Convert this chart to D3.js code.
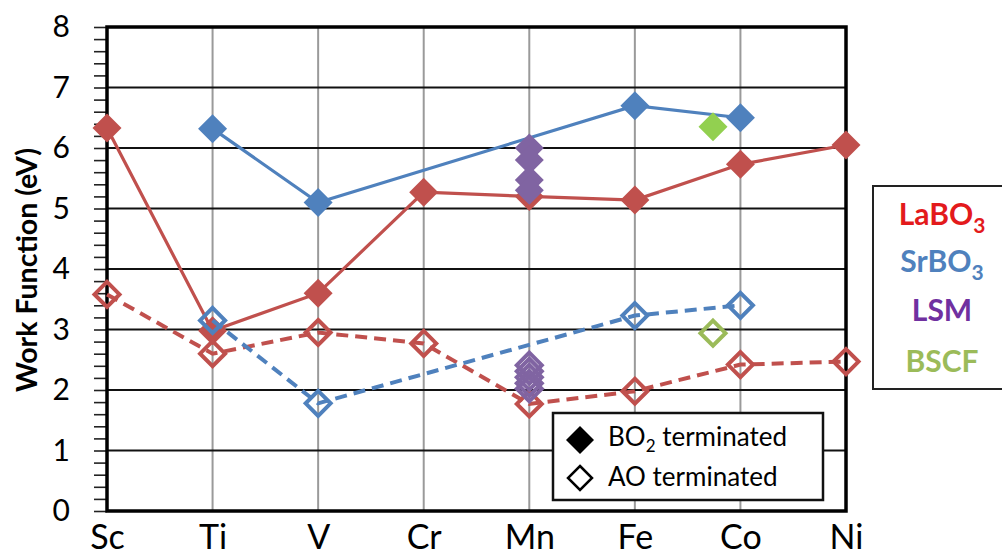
<!DOCTYPE html>
<html>
<head>
<meta charset="utf-8">
<script src="https://cdn.jsdelivr.net/npm/d3@7/dist/d3.min.js"></script>
<style>
  html, body { margin: 0; padding: 0; background: #fff; }
  svg { display: block; font-family: Lato, "Open Sans", sans-serif; }
</style>
</head>
<body>
<svg id="chart" width="1002" height="559"></svg>
<script>
// B-site cations along the 3d row
const categories = ["Sc", "Ti", "V", "Cr", "Mn", "Fe", "Co", "Ni"];
const yTicks = [0, 1, 2, 3, 4, 5, 6, 7, 8];

// Work functions (eV); null = not computed
const laBO2 = [6.33, 2.98, 3.60, 5.27, 5.20, 5.14, 5.73, 6.05];
const laAO  = [3.58, 2.60, 2.95, 2.77, 1.77, 1.98, 2.42, 2.47];
const srBO2 = [null, 6.32, 5.10, null, null, 6.70, 6.50, null];
const srAO  = [null, 3.15, 1.78, null, null, 3.23, 3.40, null];

// LSM compositions, all on the Mn site
const lsmBO2 = [6.00, 5.80, 5.47, 5.30];
const lsmAO  = [2.41, 2.31, 2.21, 2.11, 2.02];

// BSCF sits just left of Co
const bscfPos = 5.74;
const bscfBO2 = [6.35];
const bscfAO  = [2.94];

const legendNames = ["LaBO", "SrBO", "LSM", "BSCF"];
const legendSubs  = ["3", "3", "", ""];

const colors = {
  la: "#C0504D", sr: "#4F81BD", lsm: "#8064A2",
  bscfFill: "#92D050", bscfLine: "#9BBB59"
};
const legendColors = ["#E31A1C", "#4F81BD", "#7030A0", "#9BBB59"];

const svg = d3.select("#chart");
const plot = { left: 107, right: 846, top: 27, bottom: 511 };

const x = d3.scaleLinear().domain([0, categories.length - 1]).range([plot.left, plot.right]);
const y = d3.scaleLinear().domain([0, 8]).range([plot.bottom, plot.top]);

// vertical grid (grey) at each cation
svg.append("g")
  .selectAll("line")
  .data(categories.slice(1, -1))
  .join("line")
  .attr("x1", (d, i) => x(i + 1)).attr("x2", (d, i) => x(i + 1))
  .attr("y1", plot.top).attr("y2", plot.bottom)
  .attr("stroke", "#9a9a9a").attr("stroke-width", 2);

// horizontal grid (black)
svg.append("g")
  .selectAll("line")
  .data(yTicks.slice(1, -1))
  .join("line")
  .attr("x1", plot.left).attr("x2", plot.right)
  .attr("y1", d => y(d)).attr("y2", d => y(d))
  .attr("stroke", "#111").attr("stroke-width", 2);

// minor + major tick marks on the left
const minorTicks = d3.range(0, 40.5).map(i => i / 5);
svg.append("g")
  .attr("transform", `translate(${plot.left},0)`)
  .call(d3.axisLeft(y).tickValues(minorTicks).tickSize(13).tickFormat(""))
  .call(g => g.select(".domain").remove())
  .call(g => g.selectAll("line").attr("stroke", "#222").attr("stroke-width", 1.6));

// y tick labels
svg.append("g")
  .attr("transform", `translate(${plot.left},0)`)
  .call(d3.axisLeft(y).tickValues(yTicks).tickSize(0).tickPadding(37).tickFormat(d3.format("d")))
  .call(g => g.select(".domain").remove())
  .call(g => g.selectAll("text")
    .attr("font-family", "Lato, sans-serif").attr("font-size", 30).attr("fill", "#000"));

// x tick labels
svg.append("g")
  .attr("transform", `translate(0,${plot.bottom})`)
  .call(d3.axisBottom(x).tickValues(d3.range(categories.length)).tickSize(0).tickPadding(14)
    .tickFormat(i => categories[i]))
  .call(g => g.select(".domain").remove())
  .call(g => g.selectAll("text")
    .attr("font-family", "Lato, sans-serif").attr("font-size", 34).attr("fill", "#000"));

// y axis title
svg.append("text")
  .attr("transform", `translate(26,270) rotate(-90)`)
  .attr("text-anchor", "middle").attr("dominant-baseline", "central")
  .attr("font-size", 28.5).attr("font-weight", "bold")
  .text("Work Function (eV)");

// plot frame
svg.append("rect")
  .attr("x", plot.left).attr("y", plot.top)
  .attr("width", plot.right - plot.left).attr("height", plot.bottom - plot.top)
  .attr("fill", "none").attr("stroke", "#000").attr("stroke-width", 3.5);

const diamond = r => `M0,${-r}L${r},0L0,${r}L${-r},0Z`;
const line = d3.line().x(d => x(d[0])).y(d => y(d[1]));
const pts = arr => arr.map((v, i) => [i, v]).filter(d => d[1] != null);

function series(values, color, dashed) {
  const p = pts(values);
  svg.append("path")
    .datum(p)
    .attr("d", line)
    .attr("fill", "none")
    .attr("stroke", color)
    .attr("stroke-width", dashed ? 4 : 3.2)
    .attr("stroke-dasharray", dashed ? "12,7" : null);
  markers(p, color, dashed, color);
}

function markers(p, color, open, fillColor) {
  svg.append("g")
    .selectAll("path")
    .data(p)
    .join("path")
    .attr("transform", d => `translate(${x(d[0])},${y(d[1])})`)
    .attr("d", open ? diamond(12.5) : diamond(14.5))
    .attr("fill", open ? "#fff" : fillColor)
    .attr("fill-opacity", open ? 0 : 1)
    .attr("stroke", open ? color : "none")
    .attr("stroke-width", open ? 4 : 0);
}

series(laBO2, colors.la, false);
series(laAO, colors.la, true);
series(srBO2, colors.sr, false);
series(srAO, colors.sr, true);

const mnIndex = categories.indexOf("Mn");
markers(lsmBO2.map(v => [mnIndex, v]), colors.lsm, false, colors.lsm);
markers(lsmAO.map(v => [mnIndex, v]), colors.lsm, true, colors.lsm);

markers(bscfBO2.map(v => [bscfPos, v]), colors.bscfFill, false, colors.bscfFill);
markers(bscfAO.map(v => [bscfPos, v]), colors.bscfLine, true, colors.bscfLine);

// termination legend
const leg = svg.append("g");
leg.append("rect")
  .attr("x", 553).attr("y", 413).attr("width", 270).attr("height", 87)
  .attr("fill", "#fff").attr("stroke", "#111").attr("stroke-width", 2.5);
leg.append("path").attr("transform", "translate(580,440)").attr("d", diamond(14)).attr("fill", "#000");
leg.append("path").attr("transform", "translate(580,478)").attr("d", diamond(12))
  .attr("fill", "#fff").attr("stroke", "#000").attr("stroke-width", 2.5);
const t1 = leg.append("text").attr("x", 608).attr("y", 446).attr("font-size", 26);
t1.append("tspan").text("BO");
t1.append("tspan").attr("dy", 6).attr("font-size", 17).text("2");
t1.append("tspan").attr("dy", -6).text(" terminated");
leg.append("text").attr("x", 608).attr("y", 486).attr("font-size", 26).text("AO terminated");

// material legend
const mat = svg.append("g");
mat.append("rect")
  .attr("x", 873).attr("y", 186).attr("width", 140).attr("height", 203)
  .attr("fill", "#fff").attr("stroke", "#222").attr("stroke-width", 2);
const baselines = [225, 272, 321, 372];
legendNames.forEach((name, i) => {
  const t = mat.append("text")
    .attr("x", 942).attr("y", baselines[i])
    .attr("text-anchor", "middle")
    .attr("font-size", 30).attr("font-weight", "bold")
    .attr("fill", legendColors[i]);
  t.append("tspan").text(name);
  if (legendSubs[i]) t.append("tspan").attr("dy", 8).attr("font-size", 21).text(legendSubs[i]);
});
</script>
</body>
</html>
